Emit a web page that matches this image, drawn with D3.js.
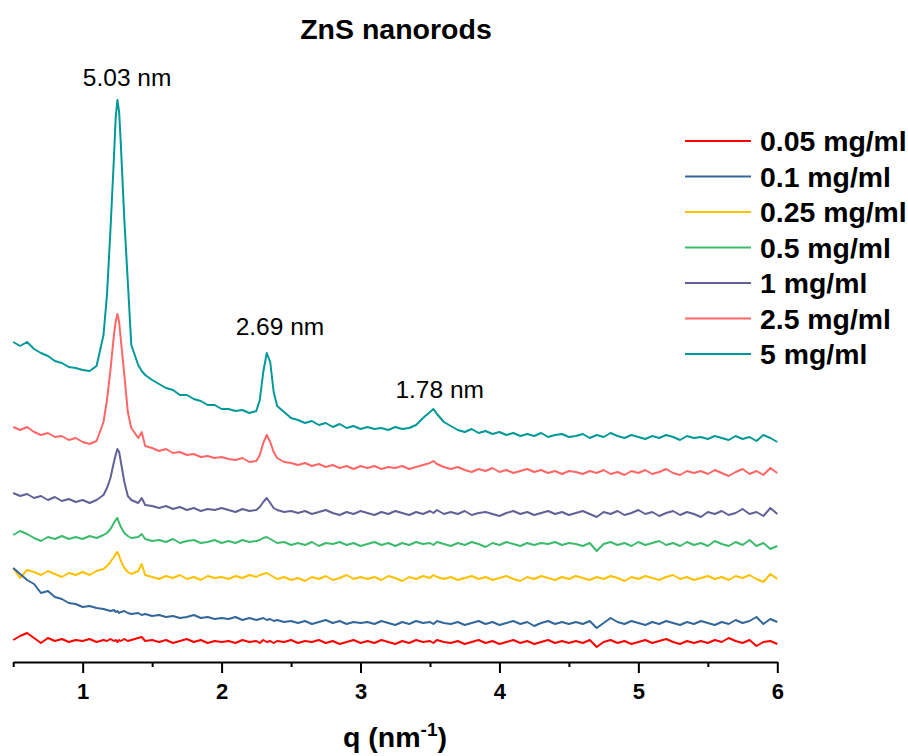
<!DOCTYPE html>
<html>
<head>
<meta charset="utf-8">
<script src="https://d3js.org/d3.v7.min.js"></script>
<style>
  body { margin: 0; background: #fff; }
  text { font-family: "Liberation Sans", Arial, sans-serif; }
</style>
</head>
<body>
<svg id="chart"></svg>
<script>
// scattering vector q (nm^-1), denser around the Bragg peaks
var q = [0.50,0.55,0.60,0.65,0.70,0.75,0.80,0.85,0.90,0.95,
  1.00,1.05,1.10,1.15,1.175,1.20,1.225,1.2375,1.25,1.2625,1.275,1.30,1.325,1.35,1.40,1.425,1.45,1.50,
  1.55,1.60,1.65,1.70,1.75,1.80,1.85,1.90,1.95,2.00,
  2.05,2.10,2.15,2.20,2.25,2.275,2.30,2.325,2.35,2.375,2.40,2.45,2.50,
  2.55,2.60,2.65,2.70,2.75,2.80,2.85,2.90,2.95,3.00,
  3.05,3.10,3.15,3.20,3.25,3.30,3.35,3.40,3.45,3.50,3.525,3.55,3.60,
  3.65,3.70,3.75,3.80,3.85,3.90,3.95,4.00,4.05,4.10,4.15,4.20,4.25,4.30,4.35,4.40,4.45,4.50,
  4.55,4.60,4.65,4.70,4.75,4.80,4.85,4.90,4.95,5.00,5.05,5.10,5.15,5.20,5.25,5.30,5.35,5.40,
  5.45,5.50,5.55,5.60,5.65,5.70,5.75,5.80,5.85,5.90,5.95,6.00];

// intensity (a.u., curves offset vertically)
var i005 = [2.2,2.6,2.9,2.4,1.9,2.4,2.1,2.3,2.0,2.2,
  2.1,2.3,2.0,2.2,2.1,2.3,2.1,2.2,2.0,2.2,2.1,2.3,2.1,2.2,2.4,2.5,2.1,2.2,
  2.0,2.2,1.9,2.1,2.3,2.0,2.2,1.9,2.1,2.0,
  2.1,1.9,2.2,2.0,2.1,1.9,2.2,2.0,2.1,1.9,2.1,2.0,2.2,
  1.9,2.1,2.0,2.2,1.9,2.1,1.8,2.0,2.2,1.9,
  2.1,1.9,2.2,2.0,1.8,2.1,1.9,2.2,2.0,2.1,1.9,2.2,2.0,
  1.9,2.1,1.8,2.0,2.2,1.9,2.1,1.8,2.0,2.2,1.9,2.1,1.8,2.0,2.2,1.9,2.1,1.9,
  2.1,1.9,2.2,1.5,2.0,2.2,1.9,2.1,1.8,2.0,2.2,1.9,2.1,2.3,2.0,1.8,2.1,1.9,
  2.1,1.9,2.2,2.0,2.4,2.1,1.9,2.2,1.6,2.0,2.1,1.8];

var i01 = [9.4,8.8,8.2,7.8,6.9,7.1,6.5,6.3,5.9,5.8,
  5.5,5.6,5.4,5.3,5.2,5.1,5.2,5.0,5.1,4.9,5.0,5.1,4.9,4.8,4.9,4.7,4.8,4.6,
  4.7,4.5,4.6,4.4,4.5,4.7,4.4,4.5,4.3,4.4,
  4.3,4.5,4.2,4.4,4.2,4.3,4.4,4.2,4.3,4.1,4.2,4.0,4.1,
  3.9,4.1,3.8,4.0,4.2,3.9,4.1,3.8,4.0,3.9,
  4.0,3.8,4.1,3.9,3.7,4.0,3.8,4.1,3.9,4.0,3.8,4.1,3.9,
  3.8,4.0,3.7,3.9,4.1,3.8,4.0,3.7,3.9,4.1,3.8,4.0,3.6,3.9,4.1,3.8,4.0,3.8,
  4.0,3.8,4.1,3.4,3.9,4.4,4.0,3.8,4.1,3.9,3.7,4.0,3.8,4.1,3.9,3.7,4.0,3.8,
  4.1,3.9,3.7,4.0,3.8,4.2,3.9,4.1,4.5,3.8,4.3,4.0];

var i025 = [9.4,8.4,9.2,9.0,8.7,9.1,8.8,8.5,8.9,8.7,
  9.0,8.7,9.1,9.3,9.6,10.0,10.5,10.8,11.0,10.6,10.1,9.4,9.0,8.8,9.1,9.8,8.7,8.5,
  8.3,8.6,8.4,8.7,8.3,8.5,8.2,8.6,8.4,8.5,
  8.3,8.6,8.4,8.7,8.5,8.7,8.8,8.9,8.7,8.5,8.3,8.5,8.2,
  8.4,8.1,8.5,8.3,8.6,8.2,8.4,8.7,8.3,8.5,
  8.3,8.5,8.2,8.6,8.4,8.1,8.5,8.3,8.6,8.4,8.7,8.5,8.3,
  8.5,8.2,8.4,8.6,8.3,8.5,8.2,8.4,8.6,8.3,8.1,8.5,8.3,8.6,8.4,8.2,8.5,8.3,
  8.6,8.4,8.2,8.5,8.3,8.6,8.4,8.1,8.5,8.3,8.6,8.4,8.2,8.5,8.7,8.3,8.5,8.2,
  8.4,8.6,8.3,8.5,8.2,8.6,8.4,8.7,8.3,8.0,8.8,8.3];

var i05 = [12.7,13.1,12.8,12.4,12.1,12.5,12.3,12.6,12.3,12.5,
  12.3,12.6,12.4,12.7,12.9,13.3,13.9,14.2,14.4,13.9,13.5,12.9,12.6,12.4,12.5,12.8,12.3,12.1,
  12.2,12.0,12.3,11.9,12.1,12.2,11.9,12.0,12.2,11.9,
  12.1,11.9,12.2,12.0,12.1,12.2,12.4,12.5,12.3,12.1,11.9,12.0,11.7,
  11.9,11.7,12.0,11.6,11.9,11.8,12.0,11.7,11.9,11.6,
  11.8,12.0,11.7,11.9,11.6,11.9,11.7,12.0,11.8,11.9,11.7,12.0,11.8,
  11.6,11.9,11.7,12.0,11.8,11.5,11.9,11.7,12.0,11.8,11.6,11.9,11.7,11.9,11.8,12.0,11.7,11.9,
  11.8,11.6,11.9,11.1,11.8,12.0,11.7,11.9,11.6,12.0,11.7,11.9,12.1,11.7,11.9,11.6,12.0,11.7,
  11.9,11.6,12.1,11.8,11.6,12.0,11.7,12.2,11.6,11.9,11.3,11.6];

var i1 = [16.9,16.6,16.8,16.4,16.6,16.2,16.5,16.1,16.3,16.0,
  16.2,15.9,16.2,16.7,17.4,18.4,20.0,20.7,21.3,21.0,20.0,18.0,16.6,16.2,15.9,16.4,15.7,15.6,
  15.4,15.6,15.3,15.5,15.2,15.4,15.1,15.3,15.2,15.4,
  15.2,15.0,15.3,15.1,15.2,15.5,16.0,16.4,15.9,15.4,15.2,15.0,15.1,
  14.9,15.1,14.8,15.0,15.2,14.9,14.7,15.0,14.8,15.1,
  14.9,14.7,15.0,14.8,15.1,14.9,14.7,15.0,14.8,15.1,14.9,15.2,14.8,
  15.0,14.8,15.1,14.7,14.9,15.0,14.8,14.6,14.9,15.1,14.8,15.0,14.7,14.9,15.1,14.8,15.0,14.7,
  14.9,15.1,14.8,14.5,15.0,14.8,15.1,14.7,14.9,15.2,14.8,15.0,14.6,14.9,15.1,14.7,15.0,14.8,
  14.5,15.0,14.8,15.1,14.7,14.9,15.3,14.8,15.0,14.6,15.4,14.8];

var i25 = [23.5,23.2,23.5,23.0,22.7,22.9,22.5,22.6,22.2,22.4,
  22.0,21.8,22.1,24.0,26.2,29.2,32.7,34.0,34.8,34.0,32.2,28.7,25.0,23.4,22.4,23.0,21.6,21.4,
  21.1,21.3,20.9,21.0,20.7,20.8,20.5,20.6,20.4,20.5,
  20.3,20.2,20.4,20.0,20.1,20.7,21.9,22.7,22.0,21.0,20.4,20.0,19.9,
  19.7,19.9,19.6,19.8,19.5,19.7,19.4,19.6,19.3,19.6,
  19.4,19.6,19.3,19.5,19.4,19.6,19.3,19.5,19.7,19.9,20.1,19.8,19.5,
  19.3,19.5,19.2,19.0,19.3,19.1,19.4,19.0,19.2,18.9,19.1,19.3,19.0,19.2,18.9,19.1,18.8,19.1,
  19.0,18.8,19.1,18.9,19.2,18.8,19.0,18.7,19.1,18.9,19.2,18.8,19.0,19.3,18.9,18.7,19.1,18.9,
  19.1,18.8,19.2,18.9,18.6,19.0,19.3,18.8,19.1,18.7,19.4,18.9];

var i5 = [32.0,31.6,32.0,31.3,30.9,30.6,30.1,29.9,29.5,29.4,
  29.2,29.1,29.6,32.7,36.7,43.2,50.4,54.4,56.2,55.0,51.7,44.2,38.0,31.7,29.7,29.1,28.7,28.2,
  27.8,27.4,27.2,26.7,26.7,26.3,26.1,25.7,25.7,25.3,
  25.3,25.1,25.2,24.9,25.1,26.2,29.0,30.9,30.0,27.0,25.6,25.0,24.4,
  24.2,23.9,24.1,23.7,23.9,23.5,23.8,23.4,23.6,23.3,
  23.5,23.3,23.4,23.2,23.5,23.3,23.4,23.7,24.4,25.0,25.3,24.8,24.0,
  23.6,23.2,23.0,23.3,22.9,23.1,22.8,23.0,22.7,22.9,22.6,22.8,22.6,22.9,22.5,22.7,22.8,22.5,
  22.6,22.8,22.4,22.7,22.5,22.9,22.6,22.4,22.7,22.5,22.3,22.6,22.4,22.7,22.5,22.2,22.6,22.4,
  22.5,22.3,22.6,22.4,22.2,22.6,22.3,22.5,22.1,22.7,22.4,22.0];

var concentrations = ["0.05 mg/ml", "0.1 mg/ml", "0.25 mg/ml", "0.5 mg/ml", "1 mg/ml", "2.5 mg/ml", "5 mg/ml"];
var intensities = [i005, i01, i025, i05, i1, i25, i5];
var colors = ["#ff0000", "#336699", "#ffc000", "#3cbb6c", "#616195", "#ff6666", "#009999"];

// d-spacing annotations, anchored in data coordinates (q, intensity)
var peakText = ["5.03 nm", "2.69 nm", "1.78 nm"];
var peakLabelQ = [1.32, 2.42, 3.57];
var peakLabelI = [57.6, 32.7, 26.4];

var majorTicks = [1, 2, 3, 4, 5, 6];
var minorTicks = [0.5, 1.5, 2.5, 3.5, 4.5, 5.5];

var w = 908, h = 756;
var axisY = 662;

var svg = d3.select("#chart").attr("width", w).attr("height", h);

var x = d3.scaleLinear().domain([0.5, 6]).range([13.2, 777.3]);
var y = d3.scaleLinear().domain([0, 60]).range([axisY, 62]);

var line = d3.line()
    .x(function(d, i){ return x(q[i]); })
    .y(function(d){ return y(d); });

// draw the highest concentration first so the lower curves sit on top
var order = d3.range(intensities.length).reverse();
svg.append("g").selectAll("path")
    .data(order)
    .enter().append("path")
    .attr("fill", "none")
    .attr("stroke", function(k){ return colors[k]; })
    .attr("stroke-width", 2)
    .attr("stroke-linejoin", "round")
    .attr("d", function(k){ return line(intensities[k]); });

// x axis: major ticks with labels + minor ticks
var xAxis = d3.axisBottom(x)
    .tickValues(majorTicks)
    .tickSize(11)
    .tickSizeOuter(0)
    .tickPadding(10)
    .tickFormat(d3.format("d"));
var gx = svg.append("g")
    .attr("transform", "translate(0," + axisY + ")")
    .call(xAxis);
gx.select(".domain").attr("stroke", "#000").attr("stroke-width", 2);
gx.selectAll(".tick line").attr("stroke", "#000").attr("stroke-width", 2);
gx.selectAll(".tick text")
    .attr("font-size", 22)
    .attr("font-weight", "bold")
    .attr("fill", "#000")
    .style("font-family", "'Liberation Sans', Arial, sans-serif");

var gMinor = svg.append("g")
    .attr("transform", "translate(0," + axisY + ")")
    .call(d3.axisBottom(x).tickValues(minorTicks).tickSize(5).tickSizeOuter(0).tickFormat(""));
gMinor.select(".domain").remove();
gMinor.selectAll(".tick line").attr("stroke", "#000").attr("stroke-width", 2);

// titles
svg.append("text")
    .attr("x", 396).attr("y", 39)
    .attr("text-anchor", "middle")
    .attr("font-size", 28.5).attr("font-weight", "bold")
    .text("ZnS nanorods");

var xt = svg.append("text")
    .attr("x", 395).attr("y", 747)
    .attr("text-anchor", "middle")
    .attr("font-size", 28.5).attr("font-weight", "bold");
xt.append("tspan").text("q (nm");
xt.append("tspan").attr("dy", -11).attr("font-size", 19).text("-1");
xt.append("tspan").attr("dy", 11).text(")");

// peak annotations
svg.append("g").selectAll("text")
    .data(peakText)
    .enter().append("text")
    .attr("x", function(d, i){ return x(peakLabelQ[i]); })
    .attr("y", function(d, i){ return y(peakLabelI[i]); })
    .attr("text-anchor", "middle")
    .attr("font-size", 24.5)
    .text(function(d){ return d; });

// legend
var legend = svg.append("g").attr("transform", "translate(685,141)");
var items = legend.selectAll("g")
    .data(concentrations)
    .enter().append("g")
    .attr("transform", function(d, i){ return "translate(0," + (i * 35.5) + ")"; });
items.append("line")
    .attr("x1", 0).attr("x2", 66)
    .attr("stroke", function(d, i){ return colors[i]; })
    .attr("stroke-width", 2);
items.append("text")
    .attr("x", 75).attr("dy", "0.36em")
    .attr("font-size", 28.4).attr("font-weight", "bold")
    .text(function(d){ return d; });
</script>
</body>
</html>
